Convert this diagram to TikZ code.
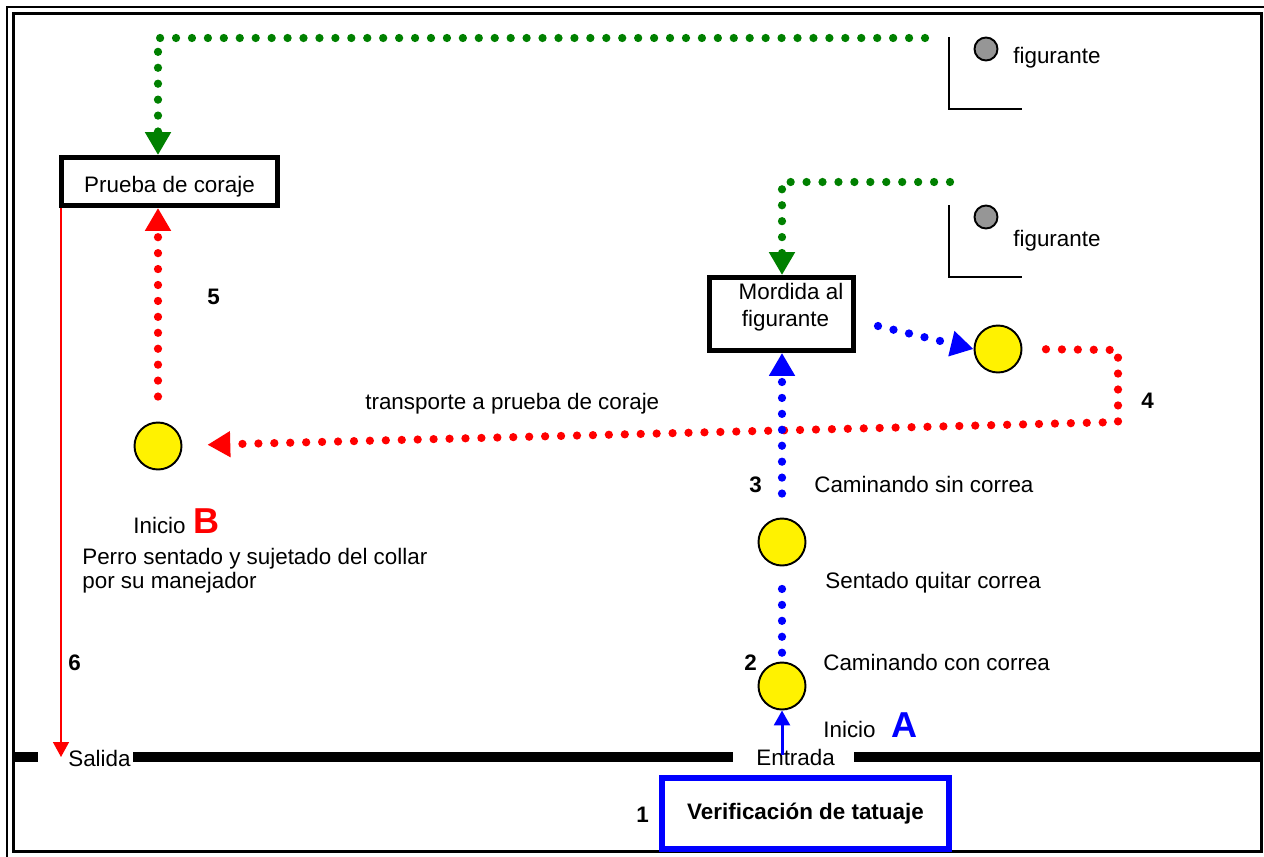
\documentclass[tikz,border=0pt]{standalone}
\usepackage{fontspec}
\setmainfont{Liberation Sans}
\usetikzlibrary{arrows.meta}
\definecolor{dkgreen}{RGB}{0,128,0}
\definecolor{figgray}{RGB}{150,150,150}
\newcommand{\txt}{\fontsize{12.75}{15.3}\selectfont}
\newcommand{\bigtxt}{\fontsize{20.5}{24}\selectfont\bfseries}
\tikzset{
  stage/.style={draw, line width=2.8pt, minimum width=#1, inner sep=0pt, font=\txt},
  dog/.style={circle, draw, line width=1.1pt, fill=yellow, minimum size=0.94cm, inner sep=0pt},
  helper/.style={circle, draw, line width=1.1pt, fill=figgray, minimum size=0.46cm, inner sep=0pt},
  dots/.style={line width=4.7pt, line cap=round, dash pattern=on 0pt off 9.07pt},
  bighead/.style={-{Triangle[length=13pt,width=14pt]}},
  smallhead/.style={-{Triangle[length=8.5pt,width=9pt]}},
  lbl/.style={anchor=base west, inner sep=0pt, font=\txt},
  num/.style={anchor=base west, inner sep=0pt, font=\txt\bfseries},
  letter/.style={anchor=base west, inner sep=0pt, font=\bigtxt},
  wall/.style={line width=6.2pt},
  corner/.style={line width=0.8pt}
}
\begin{document}
\begin{tikzpicture}[x=0.02cm,y=-0.02cm]
  \useasboundingbox (0,0) rectangle (1264,856);
  % frame
  \draw[line width=1pt] (7,7) rectangle (1272,866);
  \draw[line width=1.7pt] (13.5,13.5) rectangle (1261,851.5);
  % boxes
  \node[stage=4.32cm, minimum height=0.96cm, text height=13pt, text depth=0pt] (coraje) at (169.5,181.5) {Prueba de coraje};
  \node[stage=2.88cm, minimum height=1.46cm, align=center, text depth=10pt] (mordida) at (781.5,314) {\hspace*{0.38cm}Mordida al\\\hspace*{0.16cm}figurante};
  % dogs and helpers
  \node[dog] (dogB) at (158,446) {};
  \node[dog] (bite) at (998,349) {};
  \node[dog] (sit) at (782,542) {};
  \node[dog] (walk) at (782,686) {};
  \node[helper] (fig1) at (986,49) {};
  \node[helper] (fig2) at (986,217) {};
  \draw[corner] (949,37) -- (949,109) -- (1022,109);
  \draw[corner] (949,205) -- (949,277) -- (1022,277);
  \node[lbl] (figtxt1) at (1013,63) {figurante};
  \node[lbl] (figtxt2) at (1013,246) {figurante};
  % texts
  \node[lbl] (transp) at (365,409) {transporte a prueba de coraje};
  \node[lbl] (sinc) at (814,492) {Caminando sin correa};
  \node[lbl] (quitar) at (825,588) {Sentado quitar correa};
  \node[lbl] (conc) at (823,670) {Caminando con correa};
  \node[lbl] (inicioA) at (823,737) {Inicio};
  \node[letter, text=blue] (letA) at (891,737) {A};
  \node[lbl] (inicioB) at (133,533) {Inicio};
  \node[letter, text=red] (letB) at (193,533) {B};
  \node[lbl] (perro1) at (82,564) {Perro sentado y sujetado del collar};
  \node[lbl] (perro2) at (82,588) {por su manejador};
  \node[num] (n1) at (636,822) {1};
  \node[num] (n2) at (744,670) {2};
  \node[num] (n3) at (749,492) {3};
  \node[num] (n4) at (1141,408) {4};
  \node[num] (n5) at (207,304) {5};
  \node[num] (n6) at (68,670) {6};
  % walls
  \draw[wall] (15,757) -- (38,757);
  \draw[wall] (133,757) -- (733,757);
  \draw[wall] (854,757) -- (1261,757);
  \node[lbl] (salida) at (68,766) {Salida};
  \node[lbl] (entrada) at (756,765) {Entrada};
  \node[stage=5.74cm, minimum height=1.42cm, draw=blue, line width=3.1pt, font=\txt\bfseries] (tatuaje) at (805.5,813.5) {Verificación de tatuaje};
  % routes
  \coordinate (g1) at (925,38);
  \coordinate (g1k) at (158,38);
  \draw[dots, dkgreen, bighead] (g1) -- (g1k) -- (g1k |- coraje.north);
  \coordinate (g2) at (950,182);
  \coordinate (g2k) at (782,182);
  \draw[dots, dkgreen, bighead] (g2) -- (g2k) -- (g2k |- mordida.north);
  \coordinate (b3) at (878,326);
  \draw[dots, blue, bighead] (b3) -- (bite.west);
  \coordinate (r2) at (1118,350);
  \coordinate (r3) at (1118,422);
  \draw[dots, red, bighead, shorten <=0.47cm, shorten >=0.5cm] (bite.east) -- (r2) -- (r3) -- (dogB);
  \draw[dots, red, bighead, shorten <=0.5cm] (dogB) -- (dogB |- coraje.south);
  \draw[dots, blue, bighead, shorten <=0.48cm] (sit) -- (sit |- mordida.south);
  \draw[dots, blue, shorten <=0.45cm, shorten >=0.14cm] (sit) -- (walk);
  \coordinate (entry) at (782,755);
  \draw[blue, line width=1.7pt, smallhead] (entry) -- (walk);
  \coordinate (exitpt) at (61,757);
  \draw[red, line width=1.1pt, smallhead] (exitpt |- coraje.south) -- (exitpt);
\end{tikzpicture}
\end{document}
